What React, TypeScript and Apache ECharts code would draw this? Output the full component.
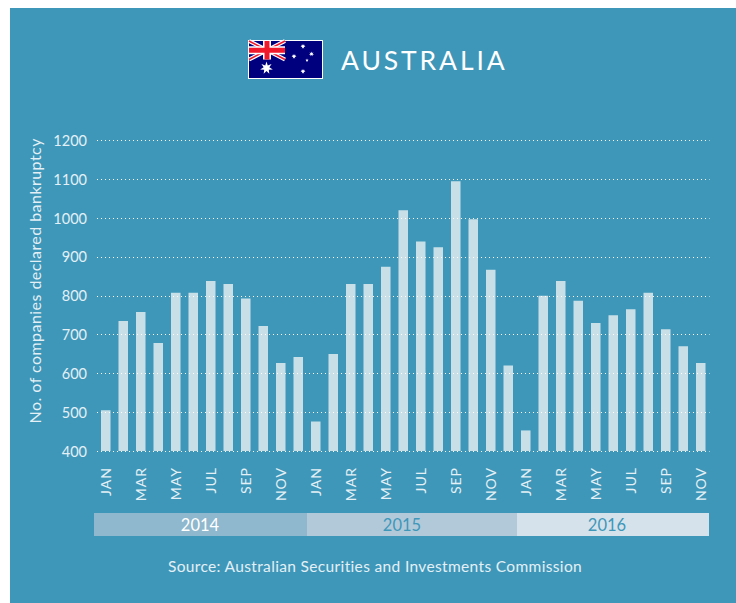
import React, { useEffect, useRef } from "react";
import * as echarts from "echarts";

const FONT = "Lato, 'Open Sans', sans-serif";
const TEAL = "#3e97b9";
const LIGHT = "#e4f0f5";

const months = [
  "JAN","FEB","MAR","APR","MAY","JUN","JUL","AUG","SEP","OCT","NOV","DEC",
  "JAN","FEB","MAR","APR","MAY","JUN","JUL","AUG","SEP","OCT","NOV","DEC",
  "JAN","FEB","MAR","APR","MAY","JUN","JUL","AUG","SEP","OCT","NOV",
];
const bankruptcies = [
  505, 735, 758, 678, 808, 808, 838, 830, 793, 722, 627, 642,
  476, 650, 830, 830, 875, 1020, 940, 925, 1095, 997, 867, 620,
  453, 800, 838, 787, 730, 750, 765, 808, 714, 670, 627,
];
const years = ["2014", "2015", "2016"];
const yearFills = ["#8fb7cd", "#b2c9d9", "#d6e2eb"];
const yearInk = ["#ffffff", TEAL, TEAL];
const yearEdges = [94, 307, 517, 709];
const yearLabelCentres = [200, 402, 607];
const yAxisTitle = "No. of companies declared bankruptcy";
const sourceNote = "Source: Australian Securities and Investments Commission";

function starPoints(cx: number, cy: number, outer: number, inner: number, tips: number) {
  const pts: number[][] = [];
  for (let i = 0; i < tips * 2; i++) {
    const r = i % 2 === 0 ? outer : inner;
    const a = -Math.PI / 2 + (i * Math.PI) / tips;
    pts.push([cx + r * Math.cos(a), cy + r * Math.sin(a)]);
  }
  return pts;
}

function diagonal(x1: number, y1: number, x2: number, y2: number, width: number, stroke: string) {
  return { type: "line", shape: { x1, y1, x2, y2 }, style: { stroke, lineWidth: width } };
}

// Australian flag: navy field, Union Jack canton, Commonwealth star and Southern Cross.
function flag() {
  const L = 249, T = 41, R = 322, B = 78, CR = 285, CB = 59.5;
  const cx = (L + CR) / 2, cy = (T + CB) / 2;
  const stars: [number, number, number, number, number][] = [
    [266.5, 68, 6.5, 2.9, 7],
    [303, 46.3, 2.6, 1.1, 7],
    [294, 56.3, 2.6, 1.1, 7],
    [311.5, 54, 2.6, 1.1, 7],
    [307, 60.3, 1.7, 0.8, 5],
    [303, 71.3, 2.6, 1.1, 7],
  ];
  return {
    type: "group",
    children: [
      { type: "rect", shape: { x: L - 1, y: T - 1, width: R - L + 2, height: B - T + 2 }, style: { fill: "#ffffff" } },
      { type: "rect", shape: { x: L, y: T, width: R - L, height: B - T }, style: { fill: "#00007f" } },
      diagonal(L, T, CR, CB, 4, "#ffffff"),
      diagonal(L, CB, CR, T, 4, "#ffffff"),
      diagonal(L, T, CR, CB, 1.6, "#f0192c"),
      diagonal(L, CB, CR, T, 1.6, "#f0192c"),
      { type: "rect", shape: { x: cx - 4, y: T, width: 8, height: CB - T }, style: { fill: "#ffffff" } },
      { type: "rect", shape: { x: L, y: cy - 4, width: CR - L, height: 8 }, style: { fill: "#ffffff" } },
      { type: "rect", shape: { x: cx - 2.5, y: T, width: 5, height: CB - T }, style: { fill: "#f0192c" } },
      { type: "rect", shape: { x: L, y: cy - 2.5, width: CR - L, height: 5 }, style: { fill: "#f0192c" } },
      ...stars.map(([x, y, o, i, n]) => ({
        type: "polygon",
        shape: { points: starPoints(x, y, o, i, n) },
        style: { fill: "#ffffff" },
      })),
    ],
  };
}

function yearBands() {
  return years.flatMap((year, i) => [
    {
      type: "rect",
      shape: { x: yearEdges[i], y: 513, width: yearEdges[i + 1] - yearEdges[i], height: 23 },
      style: { fill: yearFills[i] },
    },
    {
      type: "text",
      x: yearLabelCentres[i],
      y: 525,
      style: { text: year, fill: yearInk[i], font: `16.5px ${FONT}`, textAlign: "center", textVerticalAlign: "middle" },
    },
  ]);
}

export default function App() {
  const ref = useRef<HTMLDivElement>(null);

  useEffect(() => {
    const chart = echarts.init(ref.current!, undefined, { renderer: "svg" });
    chart.setOption({
      animation: false,
      textStyle: { fontFamily: FONT },
      graphic: [
        {
          type: "group",
          children: [
            { type: "rect", z: -10, shape: { x: 10, y: 8, width: 726, height: 595 }, style: { fill: TEAL } },
            flag(),
            {
              type: "text",
              x: 341,
              y: 59.5,
              style: { text: "AUSTRALIA", fill: "#ffffff", font: `26.5px ${FONT}`, textAlign: "left", textVerticalAlign: "middle" },
            },
            ...yearBands(),
            {
              type: "text",
              x: 375,
              y: 566,
              style: {
                text: sourceNote,
                fill: LIGHT,
                font: `15.5px ${FONT}`,
                textAlign: "center",
                textVerticalAlign: "middle",
              },
            },
          ],
        },
      ],
      grid: { left: 97, top: 140.5, width: 612.5, height: 310.5, containLabel: false },
      xAxis: {
        type: "category",
        data: months,
        axisLine: { show: false },
        axisTick: { show: false },
        axisLabel: { interval: 1, rotate: 90, color: LIGHT, fontSize: 14, margin: 16, fontFamily: FONT, padding: [0, 0, 7, 0] },
      },
      yAxis: {
        type: "value",
        min: 400,
        max: 1200,
        interval: 100,
        z: 3,
        name: yAxisTitle,
        nameLocation: "middle",
        nameGap: 36,
        nameTextStyle: { color: LIGHT, fontSize: 16, fontFamily: FONT, padding: [0, 0, 0, 30] },
        axisLine: { show: false },
        axisTick: { show: false },
        axisLabel: { color: LIGHT, fontSize: 14.5, margin: 10, fontFamily: FONT, formatter: (v: number) => String(v) },
        splitLine: { show: true, lineStyle: { color: "#ffffff", type: [1, 3], width: 1 } },
      },
      series: [
        {
          type: "bar",
          data: bankruptcies,
          barWidth: 9.5,
          itemStyle: { color: "#c8dfe8" },
        },
      ],
    });

    // Tracking for the heading and the wider-set labels; ECharts text styles have no letter spacing.
    const tracking = new Map<string, string>([
      ["AUSTRALIA", "2.9"],
      [sourceNote, "0.35"],
      [yAxisTitle, "0.45"],
      ...months.map((m): [string, string] => [m, "1"]),
    ]);
    ref.current!.querySelectorAll("text").forEach((node) => {
      const spacing = tracking.get(node.textContent ?? "");
      if (spacing) node.setAttribute("letter-spacing", spacing);
    });

    return () => chart.dispose();
  }, []);

  return <div ref={ref} style={{ position: "absolute", left: 0, top: 0, width: 736, height: 603 }} />;
}
